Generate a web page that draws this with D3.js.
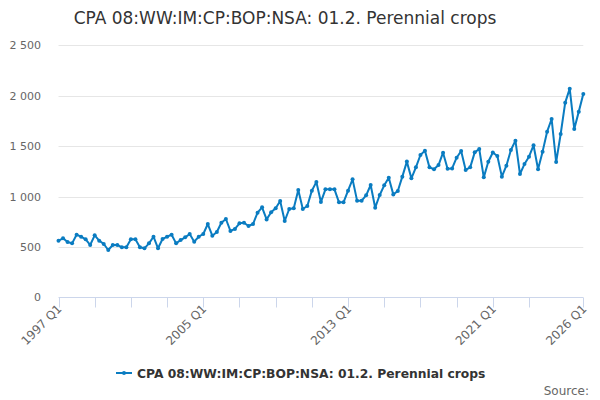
<!DOCTYPE html>
<html>
<head>
<meta charset="utf-8">
<script src="https://cdn.jsdelivr.net/npm/d3@7"></script>
<style>
  body { margin: 0; background: #fff; }
  text { font-family: "DejaVu Sans", sans-serif; }
</style>
</head>
<body>
<div id="chart"></div>
<script>
// quarterly values, 1997 Q1 .. 2026 Q1
var values = [
    562, 585, 549, 535, 621, 601, 575, 519, 615, 562, 529, 469,
    519, 519, 496, 496, 575, 575, 496, 486, 535, 601, 486, 578,
    601, 621, 535, 568, 595, 628, 552, 601, 628, 727, 611, 648,
    740, 777, 658, 678, 734, 740, 707, 727, 840, 893, 773, 843,
    883, 955, 757, 876, 883, 1064, 876, 906, 1058, 1144, 945, 1071,
    1071, 1071, 942, 942, 1058, 1170, 959, 959, 1012, 1114, 889, 1015,
    1111, 1187, 1021, 1055, 1197, 1346, 1180, 1289, 1412, 1455, 1289, 1270,
    1312, 1435, 1276, 1279, 1385, 1451, 1263, 1289, 1438, 1471, 1190, 1345,
    1436, 1402, 1197, 1306, 1461, 1554, 1223, 1322, 1395, 1508, 1270, 1445,
    1643, 1769, 1342, 1620, 1931, 2070, 1670, 1842, 2017
];
var firstYear = 1997;
var quarters = values.map(function(v, i) {
    return (firstYear + Math.floor(i / 4)) + " Q" + (i % 4 + 1);
});
var yTicks = [0, 500, 1000, 1500, 2000, 2500];
var labelledTicks = ["1997 Q1", "2005 Q1", "2013 Q1", "2021 Q1", "2026 Q1"];
var seriesName = "CPA 08:WW:IM:CP:BOP:NSA: 01.2. Perennial crops";

var width = 600, height = 400;
var margin = {top: 45.3, right: 16.7, bottom: 102.7, left: 58.5};
var color = "#0a7cc1";

var svg = d3.select("#chart").append("svg")
    .attr("width", width)
    .attr("height", height);

var x = d3.scaleLinear()
    .domain([0, values.length - 1])
    .range([margin.left, width - margin.right]);

var y = d3.scaleLinear()
    .domain([0, 2500])
    .range([height - margin.bottom, margin.top]);

// title
svg.append("text")
    .attr("x", 285)
    .attr("y", 24)
    .attr("text-anchor", "middle")
    .attr("font-size", 17)
    .attr("fill", "#333333")
    .text(seriesName);

// grid + y labels
var fmt = function(d) { return d3.format(",")(d).replace(/,/g, " "); };
svg.append("g")
    .selectAll("line")
    .data(yTicks.slice(1))
    .enter()
    .append("line")
    .attr("x1", margin.left)
    .attr("x2", width - margin.right)
    .attr("y1", d => Math.round(y(d)) + 0.5)
    .attr("y2", d => Math.round(y(d)) + 0.5)
    .attr("stroke", "#e6e6e6");

svg.append("g")
    .selectAll("text")
    .data(yTicks)
    .enter()
    .append("text")
    .attr("x", 41)
    .attr("y", d => y(d) + 4)
    .attr("text-anchor", "end")
    .attr("font-size", 11)
    .attr("fill", "#666666")
    .text(fmt);

// x axis: tick every 8 quarters, drop the one too close to the end
var tickIdx = [];
for (var i = 0; i < values.length; i += 8) {
    if (values.length - 1 - i >= 8) tickIdx.push(i);
}
tickIdx.push(values.length - 1);

var xAxis = svg.append("g");
var y0 = Math.round(y(0)) + 0.5;
xAxis.append("line")
    .attr("x1", margin.left)
    .attr("x2", width - margin.right)
    .attr("y1", y0)
    .attr("y2", y0)
    .attr("stroke", "#ccd6eb");

xAxis.selectAll("line.tick")
    .data(tickIdx)
    .enter()
    .append("line")
    .classed("tick", true)
    .attr("x1", d => Math.round(x(d)) + 0.5)
    .attr("x2", d => Math.round(x(d)) + 0.5)
    .attr("y1", y0)
    .attr("y2", y0 + 10)
    .attr("stroke", "#ccd6eb");

xAxis.selectAll("text")
    .data(tickIdx.filter(d => labelledTicks.indexOf(quarters[d]) >= 0))
    .enter()
    .append("text")
    .attr("transform", d => "translate(" + (x(d) + 4) + "," + (y0 + 12) + ") rotate(-45)")
    .attr("text-anchor", "end")
    .attr("font-size", 12)
    .attr("fill", "#666666")
    .text(d => quarters[d]);

// line
var line = d3.line()
    .x((d, i) => x(i))
    .y(d => y(d));

svg.append("path")
    .datum(values)
    .attr("d", line)
    .attr("fill", "none")
    .attr("stroke", color)
    .attr("stroke-width", 2)
    .attr("stroke-linejoin", "round");

svg.append("g")
    .selectAll("circle")
    .data(values)
    .enter()
    .append("circle")
    .attr("cx", (d, i) => x(i))
    .attr("cy", d => y(d))
    .attr("r", 2)
    .attr("fill", color);

// legend
var legend = svg.append("g").attr("transform", "translate(116,373)");
legend.append("line")
    .attr("x1", 0).attr("x2", 16)
    .attr("y1", 0).attr("y2", 0)
    .attr("stroke", color)
    .attr("stroke-width", 2);
legend.append("circle")
    .attr("cx", 8).attr("cy", 0).attr("r", 2)
    .attr("fill", color);
legend.append("text")
    .attr("x", 21)
    .attr("y", 4.5)
    .attr("font-size", 12.3)
    .attr("font-weight", "bold")
    .attr("fill", "#333333")
    .text(seriesName);

// credits
svg.append("text")
    .attr("x", 589)
    .attr("y", 395)
    .attr("text-anchor", "end")
    .attr("font-size", 12)
    .attr("fill", "#666666")
    .text("Source:");
</script>
</body>
</html>
